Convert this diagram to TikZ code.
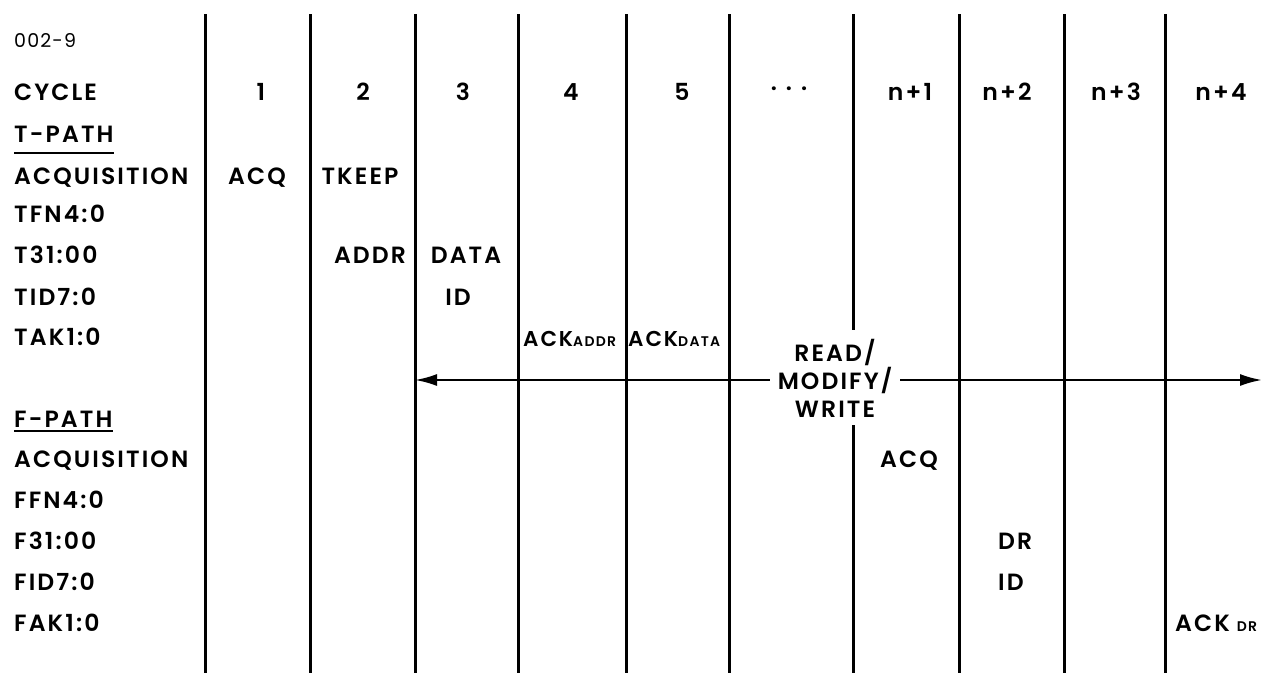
\documentclass[tikz,border=0pt]{standalone}
\usepackage{fontspec}
\setmainfont{Poppins}[LetterSpace=6]
\newfontfamily\medfont{Poppins SemiBold}[LetterSpace=9]
\usetikzlibrary{arrows.meta}
\newcommand\lblfont{\medfont\fontsize{23.5}{28}\selectfont}
\newcommand\tagfont{\fontsize{19}{22}\selectfont}
\newcommand\ackfont{\medfont\fontsize{21.5}{25}\selectfont}
\newcommand\subfont{\medfont\fontsize{14}{16}\selectfont}
\begin{document}
\begin{tikzpicture}[x=1pt,y=-1pt,
  rowlabel/.style={anchor=base west,inner sep=0pt,font=\lblfont},
  entry/.style={anchor=base,inner sep=0pt,font=\lblfont},
  entryw/.style={anchor=base west,inner sep=0pt,font=\lblfont},
  divider/.style={line width=3pt},
  span/.style={line width=2.2pt,-{Latex[length=22pt,width=12pt]}},
  uline/.style={line width=2pt}]
\useasboundingbox (0,0) rectangle (1262,675);

% cycle dividers
\foreach \n/\x in {1/205,2/310,3/415,4/518,5/626,6/729,7/853,8/959,9/1064,10/1165}{
  \coordinate (t\n) at (\x,14);
  \coordinate (b\n) at (\x,673);
}
\foreach \n in {1,2,3,4,5,6,8,9,10}{\draw[divider] (t\n) -- (b\n);}

% read/modify/write span, interrupting divider 7
\node[font=\lblfont,align=center,inner xsep=8pt,inner ysep=0pt] (rmw) at (835,378)
  {READ/\\MODIFY/\\WRITE};
\coordinate (g1) at (853,330);
\coordinate (g2) at (853,425);
\draw[divider] (t7) -- (g1);
\draw[divider] (g2) -- (b7);
\coordinate (lh) at (415,380);
\coordinate (rh) at (1262,380);
\draw[span] (rmw.west |- lh) -- (lh);
\draw[span] (rmw.east |- rh) -- (rh);

% row labels
\node[font=\tagfont,anchor=base west,inner sep=0pt] (fig) at (14,47) {002-9};
\node[rowlabel] (cyc) at (14,100) {CYCLE};
\node[rowlabel] (tpath) at (14,142) {T-PATH};
\draw[uline] ([yshift=-11pt]tpath.base west) -- ([yshift=-11pt]tpath.base east);
\node[rowlabel] (tacq) at (14,184) {ACQUISITION};
\node[rowlabel] (tfn) at (14,222) {TFN4:0};
\node[rowlabel] (tad) at (14,263) {T31:00};
\node[rowlabel] (tid) at (14,305) {TID7:0};
\node[rowlabel] (tak) at (14,345) {TAK1:0};
\node[rowlabel] (fpath) at (14,427) {F-PATH};
\draw[uline] ([yshift=-4pt]fpath.base west) -- ([yshift=-4pt]fpath.base east);
\node[rowlabel] (facq) at (14,467) {ACQUISITION};
\node[rowlabel] (ffn) at (14,508) {FFN4:0};
\node[rowlabel] (fad) at (14,549) {F31:00};
\node[rowlabel] (fid) at (14,590) {FID7:0};
\node[rowlabel] (fak) at (14,631) {FAK1:0};

% cycle numbers
\node[entry] (c1) at (261,100) {1};
\node[entry] (c2) at (363,100) {2};
\node[entry] (c3) at (463,100) {3};
\node[entry] (c4) at (571,100) {4};
\node[entry] (c5) at (682,100) {5};
\node[entry] (cdots) at (789,90) {.\hskip 9pt.\hskip 9pt.};
\node[entry] (cn1) at (910,100) {n+1};
\node[entry] (cn2) at (1007,100) {n+2};
\node[entry] (cn3) at (1116,100) {n+3};
\node[entry] (cn4) at (1221,100) {n+4};

% T-path activity
\node[entry] (acq1) at (257,184) {ACQ};
\node[entry] (tkeep) at (360,184) {TKEEP};
\node[entry] (addr) at (370,263) {ADDR};
\node[entry] (data) at (466,263) {DATA};
\node[entry] (tid3) at (458,305) {ID};
\node[anchor=base west,inner sep=0pt] (ackaddr) at (523,346) {\ackfont ACK\subfont ADDR};
\node[anchor=base west,inner sep=0pt] (ackdata) at (628,346) {\ackfont ACK\subfont DATA};

% F-path activity
\node[entry] (acq2) at (909,467) {ACQ};
\node[entryw] (dr) at (998,549) {DR};
\node[entryw] (fid2) at (998,590) {ID};
\node[anchor=base west,inner sep=0pt] (ackdr) at (1175,631) {\lblfont ACK\hskip 7pt\subfont DR};
\end{tikzpicture}
\end{document}
